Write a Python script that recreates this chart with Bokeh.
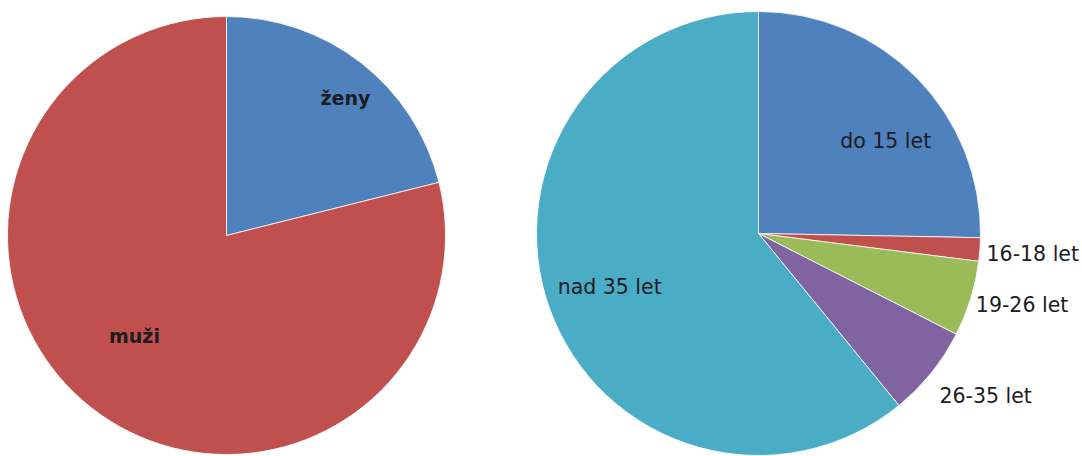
import math
from bokeh.plotting import figure
from bokeh.models import Range1d, ColumnDataSource
from bokeh.core.properties import value
from bokeh.embed import file_html
from bokeh.resources import INLINE

# ---- data ----
sex_labels = ["ženy", "muži"]
sex_values = [21.1, 78.9]
sex_colors = ["#4F81BD", "#C0504D"]

age_labels = ["do 15 let", "16-18 let", "19-26 let", "26-35 let", "nad 35 let"]
age_values = [25.3, 1.7, 5.5, 6.6, 60.9]
age_colors = ["#4F81BD", "#C0504D", "#9BBB59", "#8064A2", "#4BACC6"]

# label placement (clockwise degrees from top, distance in px)
sex_label_pos = [(40.8, 182), (222.6, 136)]
age_label_pos = [(54.1, 157), (94.2, 275), (105.1, 273), (125.5, 279), (250.4, 158)]

W, H = 1082, 456
p = figure(width=W, height=H, output_backend="svg", toolbar_location=None,
           x_range=Range1d(0, W), y_range=Range1d(0, H),
           min_border=0)
p.axis.visible = False
p.grid.visible = False
p.outline_line_color = None
p.background_fill_color = "white"


def pie(cx, cy, r, vals, cols, labels, label_pos, bold):
    total = sum(vals)
    cum = 0.0
    starts, ends = [], []
    for v in vals:
        starts.append(math.radians(90 - cum / total * 360))
        cum += v
        ends.append(math.radians(90 - cum / total * 360))
    src = ColumnDataSource(dict(start=starts, end=ends, color=cols))
    p.wedge(x=cx, y=cy, radius=r, start_angle="start", end_angle="end",
            direction="clock", fill_color="color", line_color="white",
            line_width=0.8, source=src)
    lx, ly = [], []
    for ang, d in label_pos:
        a = math.radians(ang)
        lx.append(cx + d * math.sin(a))
        ly.append(cy + d * math.cos(a))
    p.text(x=lx, y=ly, text=labels, text_align="center", text_baseline="middle",
           text_font=value("DejaVu Sans"),
           text_font_size="19px" if bold else "20.5px",
           text_font_style="bold" if bold else "normal", text_color="#1c1c24")


pie(226, 456 - 235, 219, sex_values, sex_colors, sex_labels, sex_label_pos, True)
pie(758, 456 - 233, 222, age_values, age_colors, age_labels, age_label_pos, False)

open("out.html", "w").write(file_html(p, INLINE))
